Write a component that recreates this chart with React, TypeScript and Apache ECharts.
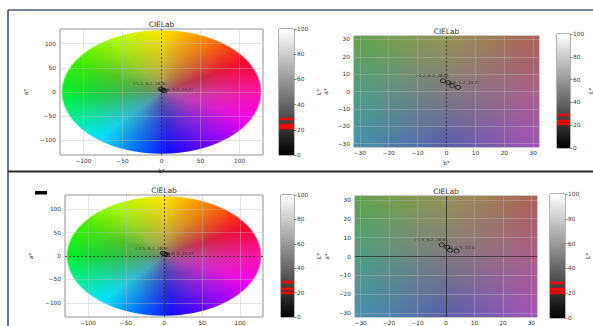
import React, { useEffect, useRef } from "react";
import * as echarts from "echarts";

// ---- data ----
const wheelTicks = [-100, -50, 0, 50, 100];
const zoomTicks = [-30, -20, -10, 0, 10, 20, 30];

const topA = [-1.2, 0.6, 2.0, 4.0];
const topB = [6.2, 5.2, 3.3, 2.4];
const topL = [28.8, 24.2, 23.6, 21.5];

const botA = [-1.5, 0.4, 1.4, 3.7];
const botB = [6.2, 5.0, 3.3, 2.9];
const botL = [28.6, 23.4, 22.8, 20.2];

const FONT = "DejaVu Sans";

// hue anchors (angle in degrees -> rgb) used to paint the colour wheel background
const hueAngles = [0, 30, 60, 90, 120, 150, 180, 210, 230, 255, 275, 305, 335, 360];
const hueColors = [
  [255, 20, 170], [255, 0, 40], [255, 120, 0], [255, 230, 0], [170, 255, 0], [60, 240, 0],
  [0, 240, 40], [0, 240, 170], [0, 230, 255], [0, 110, 255], [20, 10, 255], [140, 0, 255],
  [255, 0, 240], [255, 20, 170],
];
const centreGrey = [128, 118, 128];

// 3x3 anchor colours (top row first, left to right) for the zoomed a*/b* squares
const squareAnchors = [
  [[95, 165, 75], [150, 148, 85], [172, 98, 82]],
  [[78, 158, 132], [128, 122, 128], [172, 95, 140]],
  [[68, 148, 172], [88, 95, 172], [165, 82, 185]],
];

function hueColor(deg: number) {
  for (let k = 0; k < hueAngles.length - 1; k++) {
    if (deg >= hueAngles[k] && deg <= hueAngles[k + 1]) {
      const f = (deg - hueAngles[k]) / (hueAngles[k + 1] - hueAngles[k]);
      return hueColors[k].map((c, i) => c + (hueColors[k + 1][i] - c) * f);
    }
  }
  return hueColors[0];
}

function squareColor(u: number, v: number) {
  const gx = Math.min(1.999, u * 2);
  const gy = Math.min(1.999, v * 2);
  const ix = Math.floor(gx), iy = Math.floor(gy);
  const fx = gx - ix, fy = gy - iy;
  const c00 = squareAnchors[iy][ix], c10 = squareAnchors[iy][ix + 1];
  const c01 = squareAnchors[iy + 1][ix], c11 = squareAnchors[iy + 1][ix + 1];
  return [0, 1, 2].map(
    (c) => c00[c] * (1 - fx) * (1 - fy) + c10[c] * fx * (1 - fy) + c01[c] * (1 - fx) * fy + c11[c] * fx * fy
  );
}

function makeImage(kind: "wheel" | "square", extent: number, W: number, H: number) {
  const cv = document.createElement("canvas");
  cv.width = W;
  cv.height = H;
  const ctx = cv.getContext("2d")!;
  const img = ctx.createImageData(W, H);
  for (let j = 0; j < H; j++) {
    for (let i = 0; i < W; i++) {
      const a = -extent + ((i + 0.5) * 2 * extent) / W;
      const b = extent - ((j + 0.5) * 2 * extent) / H;
      const p = (j * W + i) * 4;
      if (kind === "wheel") {
        const nx = (i + 0.5 - W / 2) / (W / 2);
        const ny = (j + 0.5 - H / 2) / (H / 2);
        const rn = Math.hypot(nx, ny);
        const edgePx = ((1 - rn) * Math.min(W, H)) / 2;
        let alpha = 255;
        if (edgePx < 0) alpha = 0;
        else if (edgePx < 1) alpha = Math.round(edgePx * 255);
        let deg = (Math.atan2(b, a) * 180) / Math.PI;
        if (deg < 0) deg += 360;
        const hc = hueColor(deg);
        const w = Math.pow(Math.min(1, rn), 0.6);
        for (let c = 0; c < 3; c++) img.data[p + c] = Math.round(centreGrey[c] * (1 - w) + hc[c] * w);
        img.data[p + 3] = alpha;
      } else {
        const col = squareColor((i + 0.5) / W, (j + 0.5) / H);
        for (let c = 0; c < 3; c++) img.data[p + c] = Math.round(col[c]);
        img.data[p + 3] = 255;
      }
    }
  }
  ctx.putImageData(img, 0, 0);
  return cv.toDataURL("image/png");
}

const minus = (v: number) => String(v).replace("-", "\u2212");

export default function App() {
  const ref = useRef<HTMLDivElement>(null);
  useEffect(() => {
    if (!ref.current) return;
    const chart = echarts.init(ref.current, undefined, { renderer: "svg" });

    const panels = [
      { kind: "wheel", left: 60, top: 29, width: 203, height: 126, R: 130, ext: 128, ticks: wheelTicks, A: topA, B: topB, L: topL, zeroX: "dashed", zeroY: null, yGap: 31, xName: "b*" },
      { kind: "square", left: 354, top: 36, width: 185, height: 111, R: 32, ext: 32, ticks: zoomTicks, A: topA, B: topB, L: topL, zeroX: "dashed", zeroY: null, yGap: 25, xName: "b*" },
      { kind: "wheel", left: 65, top: 195, width: 198, height: 122, R: 130, ext: 128, ticks: wheelTicks, A: botA, B: botB, L: botL, zeroX: "dashed", zeroY: "dashed", yGap: 31, xName: "" },
      { kind: "square", left: 355, top: 196, width: 182, height: 121, R: 32, ext: 32, ticks: zoomTicks, A: botA, B: botB, L: botL, zeroX: "solid", zeroY: "solid", yGap: 25, xName: "" },
    ];
    const cbars = [
      { left: 279, top: 29, width: 15, height: 126, L: topL, gap: 22 },
      { left: 557, top: 34, width: 13, height: 114, L: topL, gap: 17 },
      { left: 281, top: 195, width: 13, height: 122, L: botL, gap: 22 },
      { left: 550, top: 194, width: 15, height: 124, L: botL, gap: 20 },
    ];

    const grid: any[] = [];
    const xAxis: any[] = [];
    const yAxis: any[] = [];
    const series: any[] = [];
    const labelStyle = { fontSize: 5.8, color: "#333", fontFamily: FONT };
    const tickStyle = { show: true, length: 2.5, lineStyle: { color: "#444", width: 0.6 } };

    panels.forEach((p, k) => {
      const W = Math.round((2 * p.width * p.ext) / p.R);
      const H = Math.round((2 * p.height * p.ext) / p.R);
      const img = makeImage(p.kind as any, p.ext, W, H);
      grid.push({ left: p.left, top: p.top, width: p.width, height: p.height, outerBoundsMode: "none", containLabel: false, show: true, borderColor: "#666", borderWidth: 0.7, backgroundColor: "transparent" });
      xAxis.push({
        gridIndex: k, type: "value", min: -p.R, max: p.R,
        axisLine: { show: false },
        axisTick: { ...tickStyle, customValues: p.ticks },
        axisLabel: { ...labelStyle, margin: 3, customValues: p.ticks, formatter: (v: number) => minus(v) },
        splitLine: { show: false },
        name: p.xName, nameLocation: "middle", nameGap: 13, nameTextStyle: { ...labelStyle },
      });
      yAxis.push({
        gridIndex: k, type: "value", min: -p.R, max: p.R,
        axisLine: { show: false },
        axisTick: { ...tickStyle, customValues: p.ticks },
        axisLabel: { ...labelStyle, margin: 4, customValues: p.ticks, formatter: (v: number) => minus(v) },
        splitLine: { show: false },
        name: "a*", nameLocation: "middle", nameGap: p.yGap, nameRotate: 90, nameTextStyle: { ...labelStyle },
      });
      const gl: any[] = [];
      p.ticks.forEach((t) => {
        if (t !== 0) {
          gl.push({ xAxis: t });
          gl.push({ yAxis: t });
        }
      });
      const zs = (t: string | null) => ({ color: "#222", width: 0.8, type: t === "dashed" ? [2, 2] : "solid", opacity: 0.9 });
      gl.push(p.zeroX ? { xAxis: 0, lineStyle: zs(p.zeroX) } : { xAxis: 0 });
      gl.push(p.zeroY ? { yAxis: 0, lineStyle: zs(p.zeroY) } : { yAxis: 0 });
      series.push({
        type: "custom", xAxisIndex: k, yAxisIndex: k, silent: true, z: 1,
        data: [[-p.ext, p.ext, p.ext, -p.ext]],
        renderItem: (_params: any, api: any) => {
          const p1 = api.coord([api.value(0), api.value(1)]);
          const p2 = api.coord([api.value(2), api.value(3)]);
          return { type: "image", style: { image: img, x: p1[0], y: p1[1], width: p2[0] - p1[0], height: p2[1] - p1[1] } };
        },
        markLine: {
          silent: true, symbol: "none", label: { show: false },
          lineStyle: { color: "rgba(190,190,190,0.55)", width: 0.7, type: "solid" },
          data: gl,
        },
      });
      series.push({
        type: "scatter", xAxisIndex: k, yAxisIndex: k, z: 5, silent: true,
        symbol: "circle", symbolSize: [5, 4],
        itemStyle: { color: "rgba(0,0,0,0)", borderColor: "#111", borderWidth: 0.9 },
        data: p.A.map((a, i) => ({
          value: [a, p.B[i]],
          label: {
            show: i < 2,
            position: "inside",
            offset: i === 0 ? [-11, -5] : [15, 0],
            formatter: `(${a}, ${p.B[i]}, ${p.L[i]})`,
            fontSize: 4.2, color: "#111", fontFamily: FONT,
          },
        })),
      });
    });

    cbars.forEach((c, j) => {
      const k = panels.length + j;
      grid.push({ left: c.left, top: c.top, width: c.width, height: c.height, outerBoundsMode: "none", containLabel: false, show: true, borderColor: "#222", borderWidth: 0.7, backgroundColor: "transparent" });
      xAxis.push({ gridIndex: k, type: "category", data: ["L*"], show: false });
      yAxis.push({
        gridIndex: k, type: "value", min: 0, max: 100, interval: 20, position: "right",
        axisLine: { show: false },
        axisTick: { ...tickStyle },
        axisLabel: { ...labelStyle, margin: 3 },
        splitLine: { show: false },
        name: "L*", nameLocation: "middle", nameGap: c.gap, nameRotate: 90, nameTextStyle: { ...labelStyle },
      });
      series.push({
        type: "bar", xAxisIndex: k, yAxisIndex: k, barWidth: "100%", silent: true,
        data: [100],
        itemStyle: {
          color: new echarts.graphic.LinearGradient(0, 0, 0, 1, [
            { offset: 0, color: "#ffffff" },
            { offset: 1, color: "#000000" },
          ]),
        },
        markLine: {
          silent: true, symbol: "none", label: { show: false },
          lineStyle: { color: "#ff0000", width: 2.4, type: "solid" },
          data: c.L.map((v) => ({ yAxis: v })),
        },
      });
    });

    const titles = [
      { x: 161.5, y: 20 },
      { x: 446.5, y: 27 },
      { x: 164, y: 186 },
      { x: 446, y: 187 },
    ].map((t) => ({
      text: "CIELab", left: t.x, top: t.y, textAlign: "center", padding: 0,
      textStyle: { fontSize: 7.5, fontWeight: "normal", color: "#333", fontFamily: FONT },
    }));

    chart.setOption({
      animation: false,
      backgroundColor: "#ffffff",
      title: titles,
      grid, xAxis, yAxis, series,
      graphic: [
        { type: "line", shape: { x1: 8, y1: 10, x2: 593, y2: 10 }, style: { stroke: "#4a5876", lineWidth: 1.5 } },
        { type: "line", shape: { x1: 8, y1: 10, x2: 8, y2: 326 }, style: { stroke: "#3d4a66", lineWidth: 1.5 } },
        { type: "line", shape: { x1: 8, y1: 171.5, x2: 593, y2: 171.5 }, style: { stroke: "#2b2b2b", lineWidth: 2 } },
        { type: "rect", shape: { x: 35, y: 191, width: 12, height: 3.5 }, style: { fill: "#000" } },
      ],
    });
    return () => chart.dispose();
  }, []);
  return <div ref={ref} style={{ position: "fixed", left: 0, top: 0, width: 593, height: 326 }} />;
}
